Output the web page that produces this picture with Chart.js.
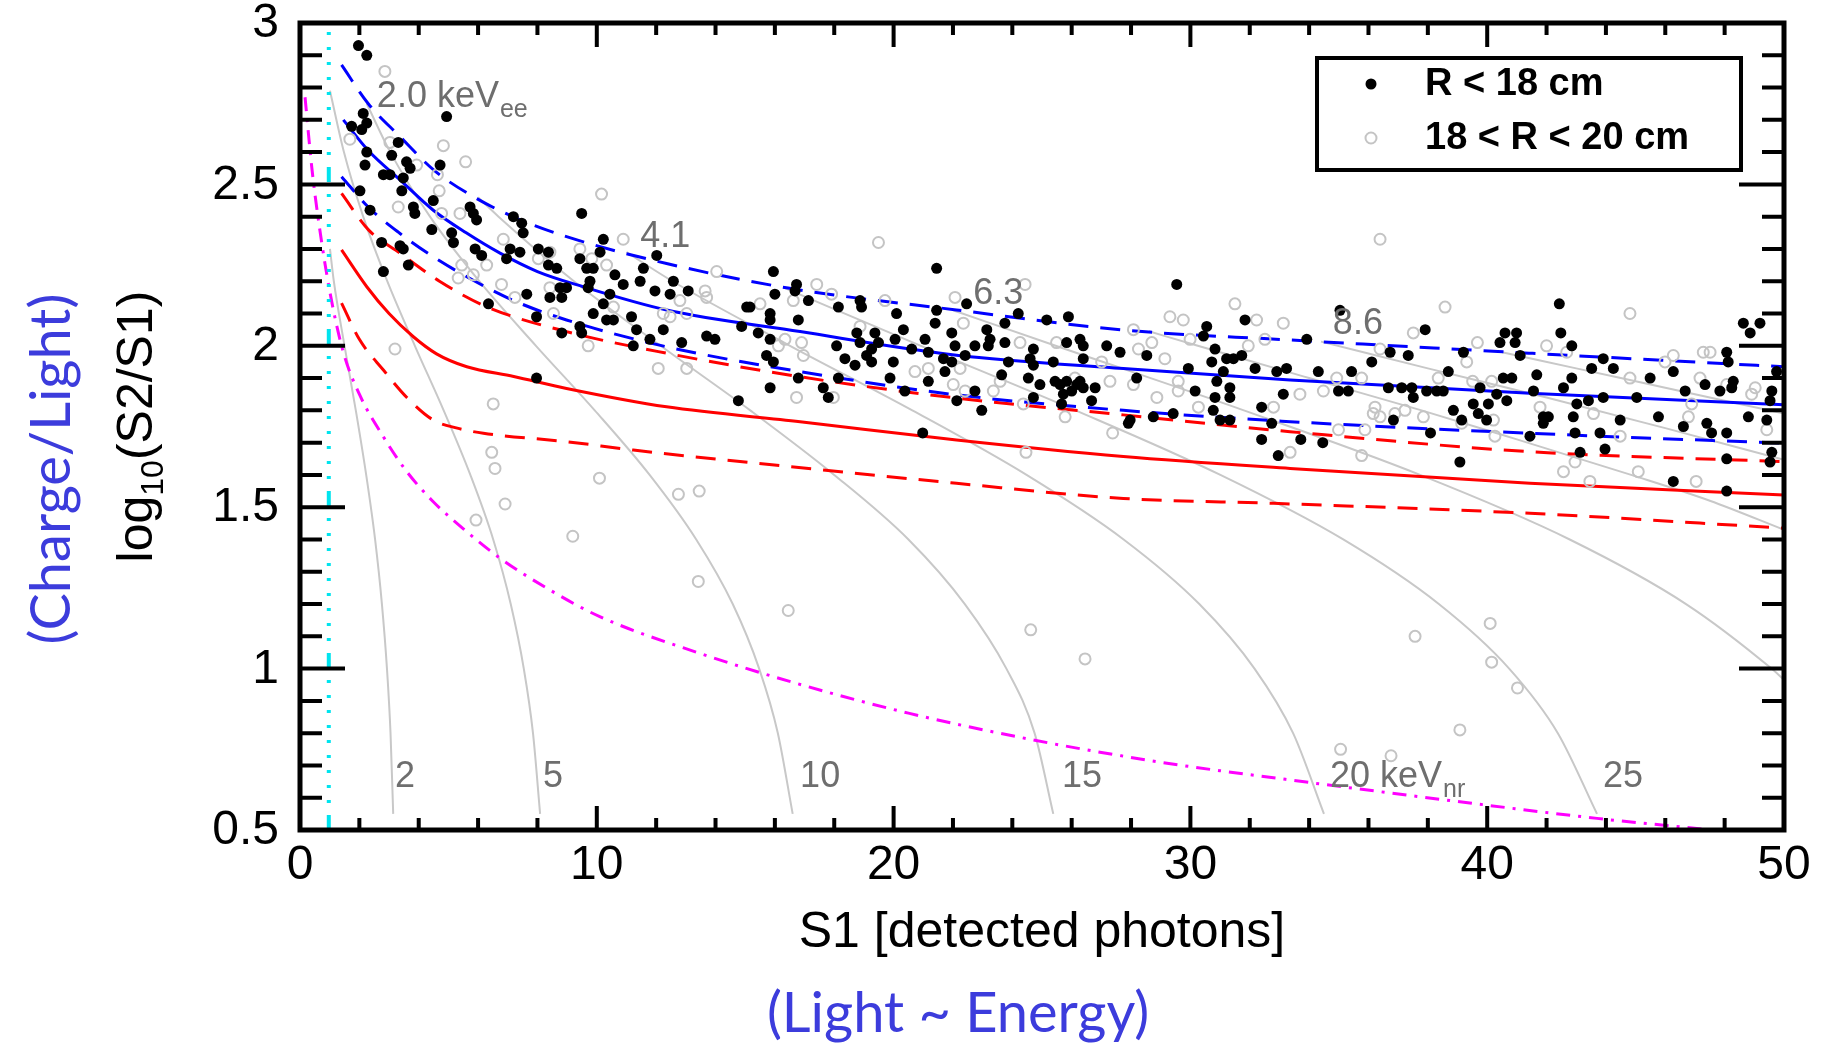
<!DOCTYPE html>
<html>
<head>
<meta charset="utf-8">
<script src="https://cdn.jsdelivr.net/npm/chart.js@4.4.1/dist/chart.umd.min.js"></script>
<style>
  html, body { margin: 0; padding: 0; background: #fff; }
  #wrap { width: 1828px; height: 1047px; }
</style>
</head>
<body>
<div id="wrap"><canvas id="plot" width="1828" height="1047"></canvas></div>
<script>
const FONT = "'Liberation Sans', Arial, Helvetica, sans-serif";
const NOTE_FONT = "Lato, 'Open Sans', sans-serif";
const NOTE_BLUE = "#3c3cdc";

// axis tick labels
const xTickLabels = [0, 10, 20, 30, 40, 50];
const yTickLabels = [0.5, 1, 1.5, 2, 2.5, 3];

// events, [S1, log10(S2/S1)]
const innerEvents = [ // R < 18 cm
  [1.97,2.93],[2.25,2.90],[4.94,2.71],[2.13,2.72],[2.25,2.69],[1.74,2.68],[2.08,2.67],[2.25,2.60],[2.19,2.56],[2.81,2.53],
  [3.03,2.53],[3.09,2.59],[3.31,2.63],[3.59,2.57],[3.71,2.55],[3.48,2.52],[3.43,2.48],[2.02,2.48],[2.36,2.42],[3.82,2.43],
  [3.87,2.41],[4.49,2.45],[4.44,2.36],[4.72,2.56],[5.11,2.35],[5.17,2.32],[5.73,2.43],[5.84,2.41],[5.95,2.39],[5.90,2.30],
  [6.12,2.28],[7.08,2.30],[7.41,2.29],[7.19,2.40],[7.47,2.38],[7.52,2.35],[6.96,2.27],[8.03,2.30],[8.37,2.29],[8.37,2.25],
  [8.65,2.24],[8.76,2.18],[8.98,2.18],[8.82,2.15],[8.42,2.15],[7.64,2.16],[7.97,2.09],[6.35,2.13],[9.49,2.41],[10.22,2.33],
  [10.11,2.29],[9.43,2.27],[9.66,2.24],[9.88,2.24],[9.77,2.20],[9.71,2.18],[10.44,2.16],[10.22,2.13],[9.88,2.10],[10.33,2.08],
  [10.56,2.08],[10.61,2.22],[10.89,2.19],[11.46,2.20],[11.57,2.24],[12.02,2.28],[11.96,2.17],[12.47,2.16],[12.58,2.20],[13.08,2.17],
  [11.17,2.09],[11.34,2.05],[12.24,2.05],[11.79,2.02],[11.23,2.00],[12.86,2.01],[9.43,2.06],[9.49,2.04],[8.82,2.04],[13.70,2.03],
  [13.98,2.02],[15.05,2.12],[15.16,2.12],[14.88,2.06],[15.44,2.04],[15.84,2.10],[15.84,2.08],[15.84,2.02],[15.95,2.23],[16.00,2.16],
  [15.72,1.97],[15.95,1.95],[15.84,1.87],[14.77,1.83],[7.97,1.90],[2.75,2.32],[3.37,2.31],[3.48,2.30],[3.65,2.25],[2.81,2.23],
  [16.73,2.19],[16.68,2.17],[17.13,2.14],[16.79,2.08],[21.45,2.24],[22.46,2.13],[18.87,2.14],[18.92,2.12],[18.14,2.12],[20.10,2.10],
  [20.33,2.05],[21.45,2.11],[21.40,2.07],[21.96,2.04],[18.76,2.04],[19.37,2.04],[18.87,2.01],[19.49,2.01],[19.26,1.99],[19.09,1.97],
  [19.26,1.95],[18.08,2.00],[18.36,1.96],[18.70,1.94],[20.05,2.02],[19.99,1.95],[20.61,1.99],[21.06,2.02],[21.17,1.98],[21.68,1.96],
  [21.96,1.95],[21.73,1.92],[22.07,2.00],[22.41,1.97],[22.74,2.00],[23.14,2.05],[23.25,2.02],[23.19,2.00],[23.75,2.07],[23.75,2.01],
  [23.87,1.95],[24.20,2.10],[25.16,2.08],[25.89,2.09],[24.71,1.99],[24.60,1.96],[24.71,1.94],[24.54,1.90],[25.83,2.01],[26.28,2.02],
  [26.39,2.00],[26.39,1.96],[25.38,1.95],[27.18,2.00],[27.63,1.98],[28.53,1.97],[28.19,1.90],[25.44,1.89],[25.61,1.88],[25.83,1.89],
  [26.17,1.88],[26.28,1.89],[26.39,1.87],[26.00,1.86],[25.72,1.85],[26.79,1.87],[26.67,1.83],[24.93,1.88],[24.71,1.84],[25.66,1.82],
  [19.88,1.90],[21.17,1.89],[22.74,1.86],[22.97,1.80],[22.13,1.83],[20.38,1.86],[17.63,1.87],[17.80,1.84],[18.14,1.90],[16.79,1.90],
  [23.64,1.91],[29.54,2.19],[30.55,2.06],[30.44,2.03],[31.84,2.08],[30.83,1.99],[30.72,1.95],[31.22,1.96],[31.45,1.96],[31.73,1.97],
  [29.93,1.93],[31.11,1.92],[30.89,1.89],[31.33,1.87],[30.16,1.86],[30.83,1.84],[31.33,1.84],[30.77,1.80],[31.00,1.77],[31.33,1.77],
  [29.42,1.79],[28.75,1.78],[27.97,1.77],[27.91,1.76],[32.18,1.93],[32.40,1.81],[32.91,1.92],[33.13,1.85],[32.74,1.76],[32.40,1.71],
  [32.96,1.66],[20.98,1.73],
  [35.04,2.11],[37.91,2.05],[33.92,2.02],[33.24,1.93],[34.31,1.92],[35.43,1.92],[36.11,1.95],[36.73,1.98],[37.34,1.97],[36.67,1.87],
  [37.12,1.87],[37.46,1.87],[37.51,1.84],[37.96,1.86],[38.30,1.86],[38.52,1.86],[34.99,1.86],[35.32,1.86],[36.84,1.77],[38.09,1.73],
  [38.69,1.92],[38.86,1.80],[39.14,1.77],[39.20,1.98],[39.53,1.82],[39.76,1.87],[39.70,1.79],[39.98,1.77],[40.04,1.82],[40.32,1.85],
  [40.60,2.04],[40.99,2.04],[40.94,2.01],[40.43,2.01],[40.54,1.90],[40.83,1.90],[40.66,1.83],[41.11,1.97],[41.67,1.91],[41.56,1.86],
  [41.89,1.78],[42.06,1.78],[41.89,1.76],[42.43,2.13],[42.48,2.04],[42.85,2.00],[42.57,1.87],[42.85,1.90],[43.02,1.82],[42.90,1.78],
  [43.41,1.83],[43.52,1.93],[43.91,1.96],[44.25,1.93],[43.91,1.84],[44.48,1.77],[45.04,1.84],[45.49,1.90],[45.77,1.78],[46.27,1.92],
  [46.67,1.86],[47.34,1.88],[47.84,1.86],[48.07,1.98],[48.12,1.95],[48.29,1.89],[48.24,1.87],[47.40,1.76],[46.61,1.75],[48.63,2.07],
  [48.86,2.04],[49.19,2.07],[49.75,1.92],[49.59,1.86],[49.53,1.83],[49.42,1.77],[48.80,1.78],
  [33.72,1.71],[34.46,1.70],[39.08,1.64],[43.13,1.67],[43.97,1.68],[46.27,1.58],[48.07,1.65],[48.07,1.55],[49.53,1.64],[49.59,1.67],
  [41.44,1.72],[42.96,1.73],[43.80,1.73],[47.56,1.73],[48.07,1.73]
];

const outerEvents = [ // 18 < R < 20 cm
  [2.86,2.85],[1.68,2.64],[3.03,2.63],[4.83,2.62],[5.58,2.57],[3.93,2.56],[4.63,2.53],[4.69,2.48],[3.31,2.43],[5.39,2.41],
  [4.77,2.41],[10.16,2.47],[6.85,2.33],[10.89,2.33],[5.45,2.25],[5.33,2.21],[5.84,2.22],[6.29,2.25],[8.42,2.29],[8.03,2.27],
  [9.43,2.30],[9.83,2.27],[10.33,2.25],[6.79,2.19],[7.24,2.15],[8.42,2.18],[8.54,2.10],[10.56,2.12],[14.04,2.23],[13.65,2.17],
  [13.70,2.15],[12.24,2.10],[12.47,2.09],[13.03,2.10],[12.80,2.14],[15.50,2.13],[16.34,2.02],[16.12,2.00],[9.71,2.00],[12.07,1.93],
  [13.03,1.93],[3.20,1.99],[6.51,1.82],
  [6.46,1.67],[6.57,1.62],[6.91,1.51],[5.93,1.46],[10.09,1.59],[9.19,1.41],[12.75,1.54],[13.45,1.55],[13.42,1.27],[16.45,1.18],
  [24.62,1.12],[26.45,1.03],[27.38,1.73],[24.46,1.67],
  [40.10,1.14],[37.57,1.10],[40.15,1.02],[41.02,0.94],[39.08,0.81],[35.06,0.75],[36.76,0.73],[33.36,1.67],[35.77,1.66],[42.57,1.61],
  [42.96,1.64],[43.46,1.58],[45.09,1.61],[47.04,1.58],[40.26,1.72],[44.48,1.72],
  [19.49,2.32],[24.43,2.19],[22.07,2.15],[19.71,2.14],[17.41,2.19],[17.91,2.16],[16.62,2.14],[16.90,2.01],[16.96,1.97],[16.73,1.84],
  [17.97,1.84],[18.87,2.06],[20.72,1.92],[21.17,1.93],[22.01,1.88],[22.24,1.93],[22.35,2.07],[22.41,1.86],[23.36,1.86],[23.59,1.89],
  [24.26,2.01],[24.37,1.82],[25.49,2.01],[26.11,1.90],[25.78,1.78],[27.01,1.95],[27.29,1.89],[28.08,2.05],[28.70,2.01],[29.14,1.96],
  [28.25,1.99],[28.87,1.84],[28.08,1.88],[29.31,2.09],[29.76,2.08],[29.99,2.02],[31.50,2.13],[32.23,2.08],[31.95,2.00],[32.51,2.02],
  [29.59,1.89],[29.59,1.86],[30.27,1.81],[32.80,1.81],[33.13,2.07],
  [36.39,2.33],[38.58,2.12],[44.81,2.10],[37.51,2.04],[39.67,2.01],[42.00,2.00],[42.68,1.98],[46.27,1.97],[45.99,1.95],[47.28,1.98],
  [47.51,1.98],[36.39,1.99],[39.31,1.95],[38.35,1.90],[39.51,1.89],[40.15,1.89],[34.93,1.90],[35.77,1.90],[34.48,1.86],[33.69,1.85],
  [36.22,1.81],[36.16,1.79],[36.39,1.78],[36.89,1.79],[37.23,1.80],[37.85,1.78],[39.14,1.76],[40.21,1.77],[34.99,1.74],[35.88,1.74],
  [41.78,1.81],[44.81,1.90],[47.17,1.90],[46.89,1.82],[46.78,1.78],[48.07,1.88],[48.91,1.85],[49.03,1.87],[49.42,1.74],[43.58,1.79]
];

// ER (blue) and NR (red) band: mean and edges
const erMean  = [[1.46,2.70],[2.3,2.605],[3.37,2.514],[4.49,2.42],[5.6,2.35],[6.74,2.287],[8.0,2.23],[9.54,2.183],[12.35,2.111],[16.85,2.044],[22.12,1.971],[27.74,1.93],[33.36,1.894],[41.44,1.853],[50,1.817]];
const erUpper = [[1.4,2.87],[2.3,2.75],[3.37,2.648],[4.5,2.545],[5.84,2.462],[7.3,2.395],[8.98,2.338],[12.35,2.255],[16.5,2.178],[22.12,2.111],[27.74,2.049],[33.36,2.018],[41.44,1.977],[50,1.935]];
const erLower = [[1.4,2.524],[2.3,2.43],[3.37,2.348],[4.5,2.275],[5.62,2.214],[7.2,2.14],[8.98,2.08],[12.35,1.997],[16.85,1.92],[22.12,1.848],[27.74,1.80],[33.36,1.765],[41.44,1.729],[50,1.698]];
const nrMean  = [[1.4,2.297],[2.25,2.183],[3.0,2.10],[3.82,2.028],[4.6,1.975],[5.62,1.935],[7.2,1.905],[8.98,1.868],[12.35,1.811],[16.85,1.765],[22.12,1.708],[27.74,1.657],[33.36,1.62],[41.44,1.574],[50,1.538]];
const nrUpper = [[1.4,2.472],[2.3,2.36],[3.37,2.287],[4.7,2.2],[6.29,2.121],[8.98,2.044],[12.35,1.977],[16.85,1.904],[22.12,1.838],[27.74,1.786],[33.36,1.734],[41.44,1.672],[50,1.641]];
const nrLower = [[1.4,2.132],[2.0,2.02],[2.81,1.925],[3.6,1.84],[4.49,1.77],[5.3,1.745],[6.18,1.729],[8.98,1.703],[11.23,1.677],[16.4,1.627],[22.12,1.574],[27.74,1.527],[32.8,1.512],[41.44,1.481],[50,1.435]];

// S2 threshold (magenta) and S1 threshold (cyan)
const s2Cut = [[0.17,2.77],[0.4,2.55],[0.62,2.39],[1.0,2.17],[1.46,1.98],[2.0,1.85],[2.81,1.718],[3.6,1.61],[4.49,1.517],[5.62,1.424],[6.74,1.342],[8.3,1.25],[10.1,1.161],[13.48,1.047],[16.7,0.955],[20.5,0.862],[24.71,0.779],[29,0.71],[33.2,0.657],[38.6,0.593],[43.7,0.536],[47.6,0.5]];
const s1Cut = [[0.97,0.5],[0.97,3.0]];

// constant energy contours (keVnr)
const nr2  = [[1.01,2.30],[1.14,2.20],[1.50,2.00],[1.88,1.80],[2.23,1.60],[2.53,1.40],[2.76,1.20],[2.93,1.00],[3.05,0.80],[3.14,0.55]];
const nr5  = [[1.01,2.79],[1.48,2.60],[2.13,2.40],[2.94,2.20],[3.87,2.00],[4.84,1.80],[5.74,1.60],[6.51,1.40],[7.10,1.20],[7.54,1.00],[7.85,0.80],[8.09,0.55]];
const nr10 = [[2.25,2.75],[3.04,2.60],[4.38,2.40],[6.04,2.20],[7.95,2.00],[9.93,1.80],[11.78,1.60],[13.35,1.40],[14.58,1.20],[15.47,1.00],[16.10,0.80],[16.60,0.55]];
const nr15 = [[6.00,2.46],[6.69,2.40],[9.23,2.20],[12.15,2.00],[15.17,1.80],[18.00,1.60],[20.50,1.40],[22.40,1.20],[23.80,1.00],[24.75,0.80],[25.38,0.55]];
const nr20 = [[11.00,2.29],[12.55,2.20],[16.51,2.00],[20.63,1.80],[24.48,1.60],[27.75,1.40],[30.30,1.20],[32.16,1.00],[33.46,0.80],[34.50,0.55]];
const nr25 = [[16.30,2.18],[20.92,2.00],[26.13,1.80],[31.01,1.60],[35.15,1.40],[38.37,1.20],[40.74,1.00],[42.38,0.80],[43.70,0.55]];
const nr30 = [[22.00,2.11],[25.46,2.00],[31.80,1.80],[37.74,1.60],[42.78,1.40],[46.70,1.20],[49.58,1.00],[50.00,0.965]];
const nr35 = [[28.60,2.045],[30.25,2.00],[34.00,1.90],[37.79,1.80],[41.00,1.71],[44.85,1.60],[47.50,1.52],[50.00,1.43]];
const nr40 = [[34.40,2.013],[38.00,1.93],[42.00,1.84],[46.00,1.745],[50.00,1.647]];
const nr45 = [[40.50,1.98],[43.00,1.93],[46.00,1.87],[50.00,1.79]];

// contour labels: text, optional subscript, anchor (S1, log10) of the left/middle
const contourLabels = [
  { text: "2.0 keV", sub: "ee", s1: 2.59, v: 2.771 },
  { text: "4.1", s1: 11.46, v: 2.337 },
  { text: "6.3", s1: 22.68, v: 2.160 },
  { text: "8.6", s1: 34.80, v: 2.068 },
  { text: "2",  s1: 3.2,  v: 0.664 },
  { text: "5",  s1: 8.19, v: 0.664 },
  { text: "10", s1: 16.85, v: 0.664 },
  { text: "15", s1: 25.67, v: 0.664 },
  { text: "20 keV", sub: "nr", s1: 34.7, v: 0.664 },
  { text: "25", s1: 43.9, v: 0.664 }
];

const toXY = pts => pts.map(p => ({ x: p[0], y: p[1] }));

function curve(label, pts, color, width, dash) {
  return {
    label: label,
    data: toXY(pts),
    showLine: true,
    borderColor: color,
    borderWidth: width,
    borderDash: dash || [],
    pointRadius: 0,
    fill: false,
    cubicInterpolationMode: "monotone"
  };
}

const GRAY = "#c8c8c8";
const dashed = [20, 12];

const datasets = [
  {
    label: "R < 18 cm",
    data: toXY(innerEvents),
    pointRadius: 5.5,
    pointBackgroundColor: "#000",
    pointBorderWidth: 0,
    showLine: false
  },
  {
    label: "18 < R < 20 cm",
    data: toXY(outerEvents),
    pointRadius: 5.5,
    pointBackgroundColor: "rgba(0,0,0,0)",
    pointBorderColor: "#c4c4c4",
    pointBorderWidth: 2,
    showLine: false
  },
  Object.assign(curve("S1 threshold", s1Cut, "#00e4ee", 4,
    [15, 12, 3, 12, 3, 12, 3, 12, 3, 12, 3, 12, 3, 12, 3, 12, 3, 12, 3, 12]),
    { cubicInterpolationMode: "default", tension: 0 }),
  curve("S2 threshold", s2Cut, "#ff00ff", 3, [14, 8, 3, 8]),
  curve("ER mean", erMean, "#0000ff", 3),
  curve("ER upper", erUpper, "#0000ff", 3, dashed),
  curve("ER lower", erLower, "#0000ff", 3, dashed),
  curve("NR mean", nrMean, "#ff0000", 3),
  curve("NR upper", nrUpper, "#ff0000", 3, dashed),
  curve("NR lower", nrLower, "#ff0000", 3, dashed),
  curve("2 keVnr", nr2, GRAY, 2),
  curve("5 keVnr", nr5, GRAY, 2),
  curve("10 keVnr", nr10, GRAY, 2),
  curve("15 keVnr", nr15, GRAY, 2),
  curve("20 keVnr", nr20, GRAY, 2),
  curve("25 keVnr", nr25, GRAY, 2),
  curve("30 keVnr", nr30, GRAY, 2),
  curve("35 keVnr", nr35, GRAY, 2),
  curve("40 keVnr", nr40, GRAY, 2),
  curve("45 keVnr", nr45, GRAY, 2)
];

function drawSubText(ctx, text, sub, x, y, size, subSize, subDrop) {
  ctx.font = size + "px " + FONT;
  ctx.fillText(text, x, y);
  if (sub) {
    const w = ctx.measureText(text).width;
    ctx.font = subSize + "px " + FONT;
    ctx.fillText(sub, x + w + 1, y + subDrop);
  }
}

const decor = {
  id: "decor",
  afterDatasetsDraw(chart) {
    const ctx = chart.ctx;
    const a = chart.chartArea;
    const xs = chart.scales.x, ys = chart.scales.y;
    ctx.save();

    // contour labels
    ctx.fillStyle = "#6e6e6e";
    ctx.textAlign = "left";
    ctx.textBaseline = "middle";
    contourLabels.forEach(l => {
      drawSubText(ctx, l.text, l.sub, xs.getPixelForValue(l.s1), ys.getPixelForValue(l.v), 36, 25, 13);
    });

    // inward ticks on all four sides
    ctx.strokeStyle = "#000";
    ctx.lineWidth = 4;
    ctx.beginPath();
    for (let i = 0; i <= 25; i++) {
      const v = i * 2;
      const px = xs.getPixelForValue(v);
      const len = (v % 10 === 0) ? 24 : 12;
      ctx.moveTo(px, a.bottom); ctx.lineTo(px, a.bottom - len);
      ctx.moveTo(px, a.top); ctx.lineTo(px, a.top + len);
    }
    for (let i = 5; i <= 30; i++) {
      const py = ys.getPixelForValue(i / 10);
      const len = (i % 5 === 0) ? 45 : 22;
      ctx.moveTo(a.left, py); ctx.lineTo(a.left + len, py);
      ctx.moveTo(a.right, py); ctx.lineTo(a.right - len, py);
    }
    ctx.stroke();

    // frame
    ctx.lineWidth = 5;
    ctx.strokeRect(a.left, a.top, a.right - a.left, a.bottom - a.top);

    // legend
    const bx = a.right - 467, by = a.top + 35, bw = 424, bh = 112;
    ctx.fillStyle = "#fff";
    ctx.fillRect(bx, by, bw, bh);
    ctx.lineWidth = 4;
    ctx.strokeRect(bx, by, bw, bh);
    const rows = [0, 1].map(i => chart.data.datasets[i]);
    rows.forEach((ds, i) => {
      const cy = by + 26 + i * 54;
      ctx.beginPath();
      ctx.arc(bx + 54, cy, 5.5, 0, Math.PI * 2);
      if (i === 0) { ctx.fillStyle = "#000"; ctx.fill(); }
      else { ctx.strokeStyle = "#c4c4c4"; ctx.lineWidth = 2; ctx.stroke(); }
      ctx.fillStyle = "#000";
      ctx.font = "bold 38px " + FONT;
      ctx.textAlign = "left";
      ctx.textBaseline = "middle";
      ctx.fillText(ds.label, bx + 108, cy + 1);
    });
    ctx.restore();
  },
  afterDraw(chart) {
    const ctx = chart.ctx;
    const a = chart.chartArea;
    const xs = chart.scales.x, ys = chart.scales.y;
    const midY = (a.top + a.bottom) / 2;
    ctx.save();

    // tick labels
    ctx.fillStyle = "#000";
    ctx.font = "48px " + FONT;
    ctx.textBaseline = "middle";
    ctx.textAlign = "center";
    xTickLabels.forEach(v => ctx.fillText(String(v), xs.getPixelForValue(v), a.bottom + 36));
    ctx.textAlign = "right";
    yTickLabels.forEach(v => ctx.fillText(String(v), a.left - 21, ys.getPixelForValue(v) + 1));

    // x titles
    ctx.textAlign = "center";
    ctx.textBaseline = "middle";
    ctx.fillStyle = "#000";
    ctx.font = "50px " + FONT;
    ctx.fillText("S1 [detected photons]", (a.left + a.right) / 2, 933);
    ctx.fillStyle = NOTE_BLUE;
    ctx.font = "56px " + NOTE_FONT;
    ctx.fillText("(Light ~ Energy)", 958, 1014);

    // y titles (rotated)
    ctx.save();
    ctx.translate(138, midY);
    ctx.rotate(-Math.PI / 2);
    ctx.fillStyle = "#000";
    ctx.textAlign = "left";
    ctx.font = "50px " + FONT;
    const w1 = ctx.measureText("log").width;
    const w3 = ctx.measureText("(S2/S1)").width;
    ctx.font = "32px " + FONT;
    const w2 = ctx.measureText("10").width;
    const x0 = -(w1 + w2 + w3) / 2;
    ctx.font = "50px " + FONT;
    ctx.fillText("log", x0, 0);
    ctx.font = "32px " + FONT;
    ctx.fillText("10", x0 + w1, 16);
    ctx.font = "50px " + FONT;
    ctx.fillText("(S2/S1)", x0 + w1 + w2, 0);
    ctx.restore();

    ctx.save();
    ctx.translate(52, 469);
    ctx.rotate(-Math.PI / 2);
    ctx.textAlign = "center";
    ctx.textBaseline = "middle";
    ctx.fillStyle = NOTE_BLUE;
    ctx.font = "56px " + NOTE_FONT;
    ctx.fillText("(Charge/Light)", 0, 0);
    ctx.restore();

    ctx.restore();
  }
};

new Chart(document.getElementById("plot"), {
  type: "scatter",
  data: { datasets: datasets },
  options: {
    responsive: false,
    animation: false,
    devicePixelRatio: 1,
    events: [],
    layout: { padding: { top: 23, right: 44, left: 0, bottom: 0 } },
    plugins: { legend: { display: false }, tooltip: { enabled: false } },
    scales: {
      x: {
        type: "linear",
        min: 0,
        max: 50,
        grid: { display: false, drawTicks: false },
        border: { display: false },
        afterBuildTicks: s => { s.ticks = xTickLabels.map(v => ({ value: v })); },
        afterFit: s => { s.height = 217; },
        ticks: { display: false }
      },
      y: {
        type: "linear",
        min: 0.5,
        max: 3,
        grid: { display: false, drawTicks: false },
        border: { display: false },
        afterBuildTicks: s => { s.ticks = yTickLabels.map(v => ({ value: v })); },
        afterFit: s => { s.width = 300; },
        ticks: { display: false }
      }
    }
  },
  plugins: [decor]
});
</script>
</body>
</html>
